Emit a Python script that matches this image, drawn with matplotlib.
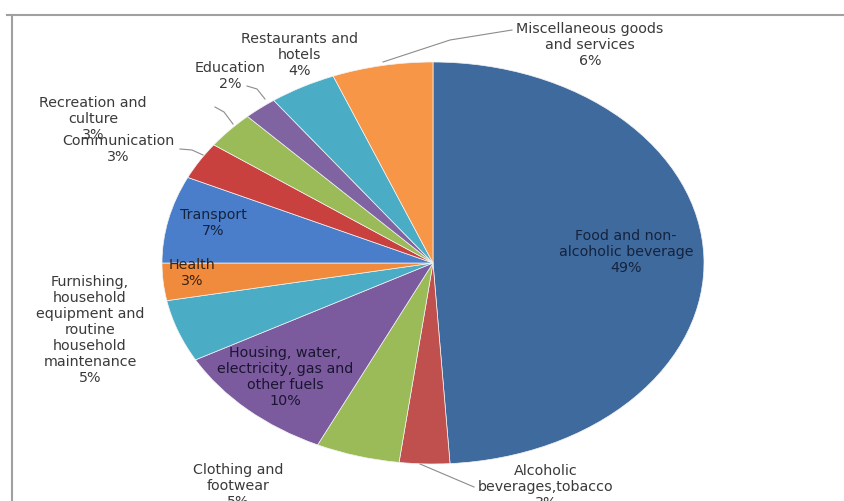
import matplotlib.pyplot as plt
import matplotlib.lines as mlines

plt.rcParams['font.family'] = ['DejaVu Sans']

categories = ['Food and non-\nalcoholic beverage', 'Alcoholic\nbeverages,tobacco', 'Clothing and\nfootwear',
              'Housing, water,\nelectricity, gas and\nother fuels',
              'Furnishing,\nhousehold\nequipment and\nroutine\nhousehold\nmaintenance',
              'Health', 'Transport', 'Communication', 'Recreation and\nculture', 'Education',
              'Restaurants and\nhotels', 'Miscellaneous goods\nand services']
shares = [49, 3, 5, 10, 5, 3, 7, 3, 3, 2, 4, 6]
colors = ['#3F6A9E', '#C0504D', '#9BBB59', '#7B5B9E', '#4BACC6', '#F08A3C',
          '#4A7ECB', '#C8413E', '#9BBB59', '#8064A2', '#4BACC6', '#F79646']

# label centres in pixels (x, y from top) and text colour
label_pos = [(626, 252, '#15233d'), (546, 487, '#3a3a3a'), (238, 486, '#3a3a3a'),
             (285, 377, '#1a1530'), (90, 330, '#3a3a3a'), (192, 273, '#3a2210'),
             (213, 223, '#15233d'), (118, 149, '#3a3a3a'), (93, 119, '#3a3a3a'),
             (230, 76, '#3a3a3a'), (300, 55, '#3a3a3a'), (590, 45, '#3a3a3a')]
leaders = [[(383, 62), (450, 40), (512, 30)],
           [(247, 86), (257, 89), (265, 99)],
           [(215, 107), (224, 112), (233, 124)],
           [(180, 149), (192, 150), (203, 155)],
           [(420, 464), (474, 487)]]

W, H = 845, 501
fig = plt.figure(figsize=(W / 100, H / 100), dpi=100)

# pie axes placed so the pie becomes an ellipse
cx, cy, rx, ry = 433, 263, 271, 201
pax = fig.add_axes([(cx - rx) / W, (H - cy - ry) / H, 2 * rx / W, 2 * ry / H])
pax.pie(shares, colors=colors, startangle=90, counterclock=False,
        wedgeprops=dict(linewidth=0.5, edgecolor='#f4f4f4'))
pax.set_aspect('auto')
pax.set_xlim(-1, 1)
pax.set_ylim(-1, 1)
pax.axis('off')

# overlay in pixel coordinates for labels and frame
ax = fig.add_axes([0, 0, 1, 1], zorder=3)
ax.set_xlim(0, W)
ax.set_ylim(H, 0)
ax.axis('off')
ax.patch.set_alpha(0)

ax.plot([7, W], [15, 15], color='#a0a0a0', lw=1.5)
ax.plot([12, 12], [15, H], color='#a0a0a0', lw=1.5)

for i, (name, val) in enumerate(zip(categories, shares)):
    x, y, col = label_pos[i]
    ax.text(x, y, '{}\n{}%'.format(name, val), ha='center', va='center',
            fontsize=10.3, color=col, linespacing=1.18)

for pts in leaders:
    ax.add_line(mlines.Line2D([p[0] for p in pts], [p[1] for p in pts],
                              color='#8c8c8c', lw=0.8))

fig.savefig('out.png', dpi=100)
